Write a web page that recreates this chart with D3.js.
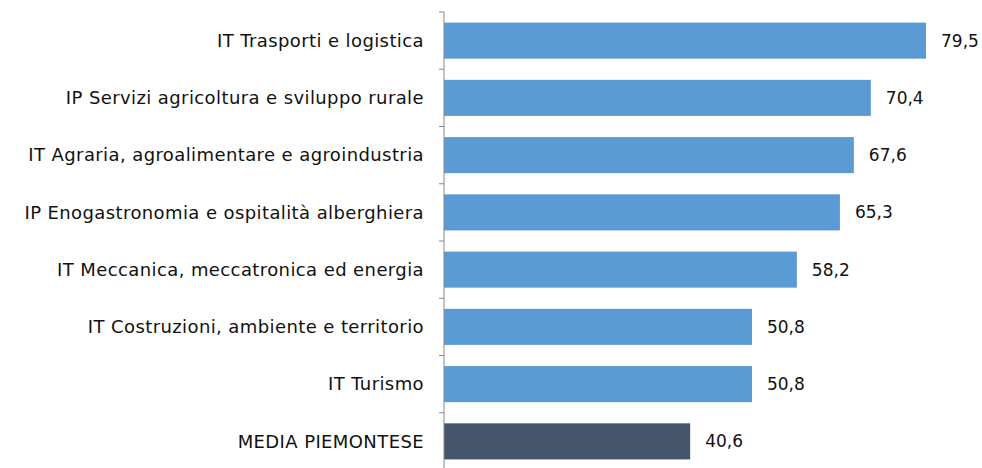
<!DOCTYPE html>
<meta charset="utf-8">
<style>
body { margin: 0; background: #fff; }
text { font-family: "DejaVu Sans", sans-serif; fill: #111; }
</style>
<svg width="982" height="468"></svg>
<script src="https://cdn.jsdelivr.net/npm/d3@7"></script>
<script>

var categories = [
  "IT Trasporti e logistica",
  "IP Servizi agricoltura e sviluppo rurale",
  "IT Agraria, agroalimentare e agroindustria",
  "IP Enogastronomia e ospitalità alberghiera",
  "IT Meccanica, meccatronica ed energia",
  "IT Costruzioni, ambiente e territorio",
  "IT Turismo",
  "MEDIA PIEMONTESE"
];
var values = [79.5, 70.4, 67.6, 65.3, 58.2, 50.8, 50.8, 40.6];
var highlight = ["MEDIA PIEMONTESE"];

var svg = d3.select("svg"),
    x0 = 444;

var x = d3.scaleLinear()
    .domain([0, 79.5])
    .range([x0, 926]);

var y = d3.scaleBand()
    .domain(categories)
    .range([12, 470])
    .paddingInner(0.37)
    .paddingOuter(0.185);

var data = categories.map(function(c, i) { return {name: c, value: values[i]}; });

svg.append("g").selectAll("rect")
    .data(data)
  .enter().append("rect")
    .attr("x", x(0))
    .attr("y", function(d) { return y(d.name); })
    .attr("width", function(d) { return x(d.value) - x(0); })
    .attr("height", y.bandwidth())
    .attr("fill", function(d) { return highlight.indexOf(d.name) >= 0 ? "#44546A" : "#5B9BD5"; });

// axis line with ticks between categories
var axis = svg.append("g");
axis.append("line")
    .attr("x1", x0).attr("x2", x0)
    .attr("y1", 12).attr("y2", 470)
    .attr("stroke", "#868686").attr("stroke-width", 1);

var step = y.step();
axis.selectAll("line.tick")
    .data(d3.range(categories.length + 1))
  .enter().append("line")
    .attr("class", "tick")
    .attr("x1", x0 - 5).attr("x2", x0)
    .attr("y1", function(i) { return 12 + i * step; })
    .attr("y2", function(i) { return 12 + i * step; })
    .attr("stroke", "#868686");

svg.append("g").selectAll("text")
    .data(data)
  .enter().append("text")
    .attr("x", x0 - 20)
    .attr("y", function(d) { return y(d.name) + y.bandwidth() / 2; })
    .attr("dy", "0.35em")
    .attr("text-anchor", "end")
    .style("font-size", "18px")
    .style("letter-spacing", "0.4px")
    .text(function(d) { return d.name; });

svg.append("g").selectAll("text")
    .data(data)
  .enter().append("text")
    .attr("x", function(d) { return x(d.value) + 15; })
    .attr("y", function(d) { return y(d.name) + y.bandwidth() / 2; })
    .attr("dy", "0.35em")
    .style("font-size", "17px")
    .text(function(d) { return d3.format(".1f")(d.value).replace(".", ","); });

</script>
